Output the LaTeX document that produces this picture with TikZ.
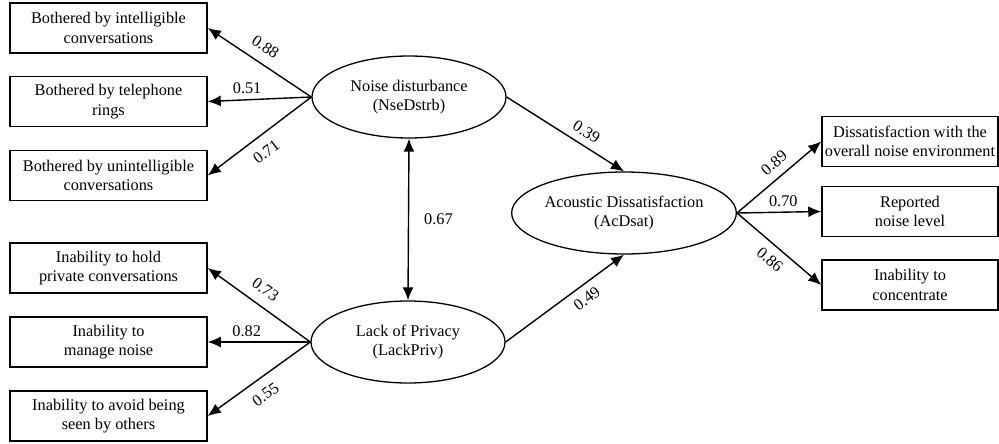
\documentclass[tikz,border=0pt]{standalone}
\usepackage{fontspec}
\setmainfont{Liberation Serif}
\usepackage{tikz}
\usetikzlibrary{arrows.meta,positioning,shapes}
\tikzset{obs/.style={rectangle, draw=black, line width=1.5pt, minimum width=197pt, minimum height=50pt, inner sep=0pt, align=center},
	lat/.style={ellipse, draw=black, line width=1.3pt, minimum width=194pt, minimum height=82pt, inner sep=0pt, align=center},
	arr/.style={line width=1.4pt, -{Latex[length=13pt,width=11pt]}},
	darr/.style={line width=1.4pt, {Latex[length=13pt,width=11pt]}-{Latex[length=13pt,width=11pt]}},
	lbl/.style={inner sep=1pt}}

\begin{document}
\begin{tikzpicture}[x=1pt,y=-1pt,font=\fontsize{16.3}{19.5}\selectfont]
	\useasboundingbox (0,0) rectangle (999,444);
	% indicators, left
	\node[obs] (bic) at (108.5,28) {Bothered by intelligible\\conversations};
	\node[obs] (btr) at (108.5,101.5) {Bothered by telephone\\rings};
	\node[obs] (buc) at (108.5,175.5) {Bothered by unintelligible\\conversations};
	\node[obs] (ihp) at (108.5,268) {Inability to hold\\private conversations};
	\node[obs] (imn) at (108.5,342) {Inability to\\manage noise};
	\node[obs] (iab) at (108.5,416) {Inability to avoid being\\seen by others};
	% latent variables
	\node[lat] (nse) at (409,97) {Noise disturbance\\(NseDstrb)};
	\node[lat] (lp) at (408,342) {Lack of Privacy\\(LackPriv)};
	\node[lat] (acd) at (624,213) {Acoustic Dissatisfaction\\(AcDsat)};
	% indicators, right
	\node[obs,minimum width=176pt] (dis) at (910,141.5) {Dissatisfaction with the\\overall noise environment};
	\node[obs,minimum width=176pt] (rnl) at (910,211.5) {Reported\\noise level};
	\node[obs,minimum width=176pt] (itc) at (910,285) {Inability to\\concentrate};
	% loadings
	\draw [arr] (nse.west) -- node[lbl,pos=0.53,sloped,above=9pt]{0.88} (bic.east);
	\draw [arr] (nse.west) -- node[lbl,pos=0.62,above=4pt]{0.51} (btr.east);
	\draw [arr] (nse.west) -- node[lbl,pos=0.53,sloped,below=9pt]{0.71} (buc.east);
	\draw [arr] (lp.west) -- node[lbl,pos=0.53,sloped,above=9pt]{0.73} (ihp.east);
	\draw [arr] (lp.west) -- node[lbl,pos=0.62,above=4pt]{0.82} (imn.east);
	\draw [arr] (lp.west) -- node[lbl,pos=0.53,sloped,below=9pt]{0.55} (iab.east);
	\draw [arr] (acd.east) -- node[lbl,pos=0.55,sloped,above=7pt]{0.89} (dis.west);
	\draw [arr] (acd.east) -- node[lbl,pos=0.55,above=4pt]{0.70} (rnl.west);
	\draw [arr] (acd.east) -- node[lbl,pos=0.5,sloped,below=7pt]{0.86} (itc.west);
	% paths
	\draw [darr] (nse.south) -- node[lbl,right=14pt]{0.67} (lp.north);
	\draw [arr] (nse.east) -- node[lbl,pos=0.62,sloped,above=6pt]{0.39} (acd.north);
	\draw [arr] (lp.east) -- node[lbl,pos=0.62,sloped,below=6pt]{0.49} (acd.south);
\end{tikzpicture}
\end{document}
